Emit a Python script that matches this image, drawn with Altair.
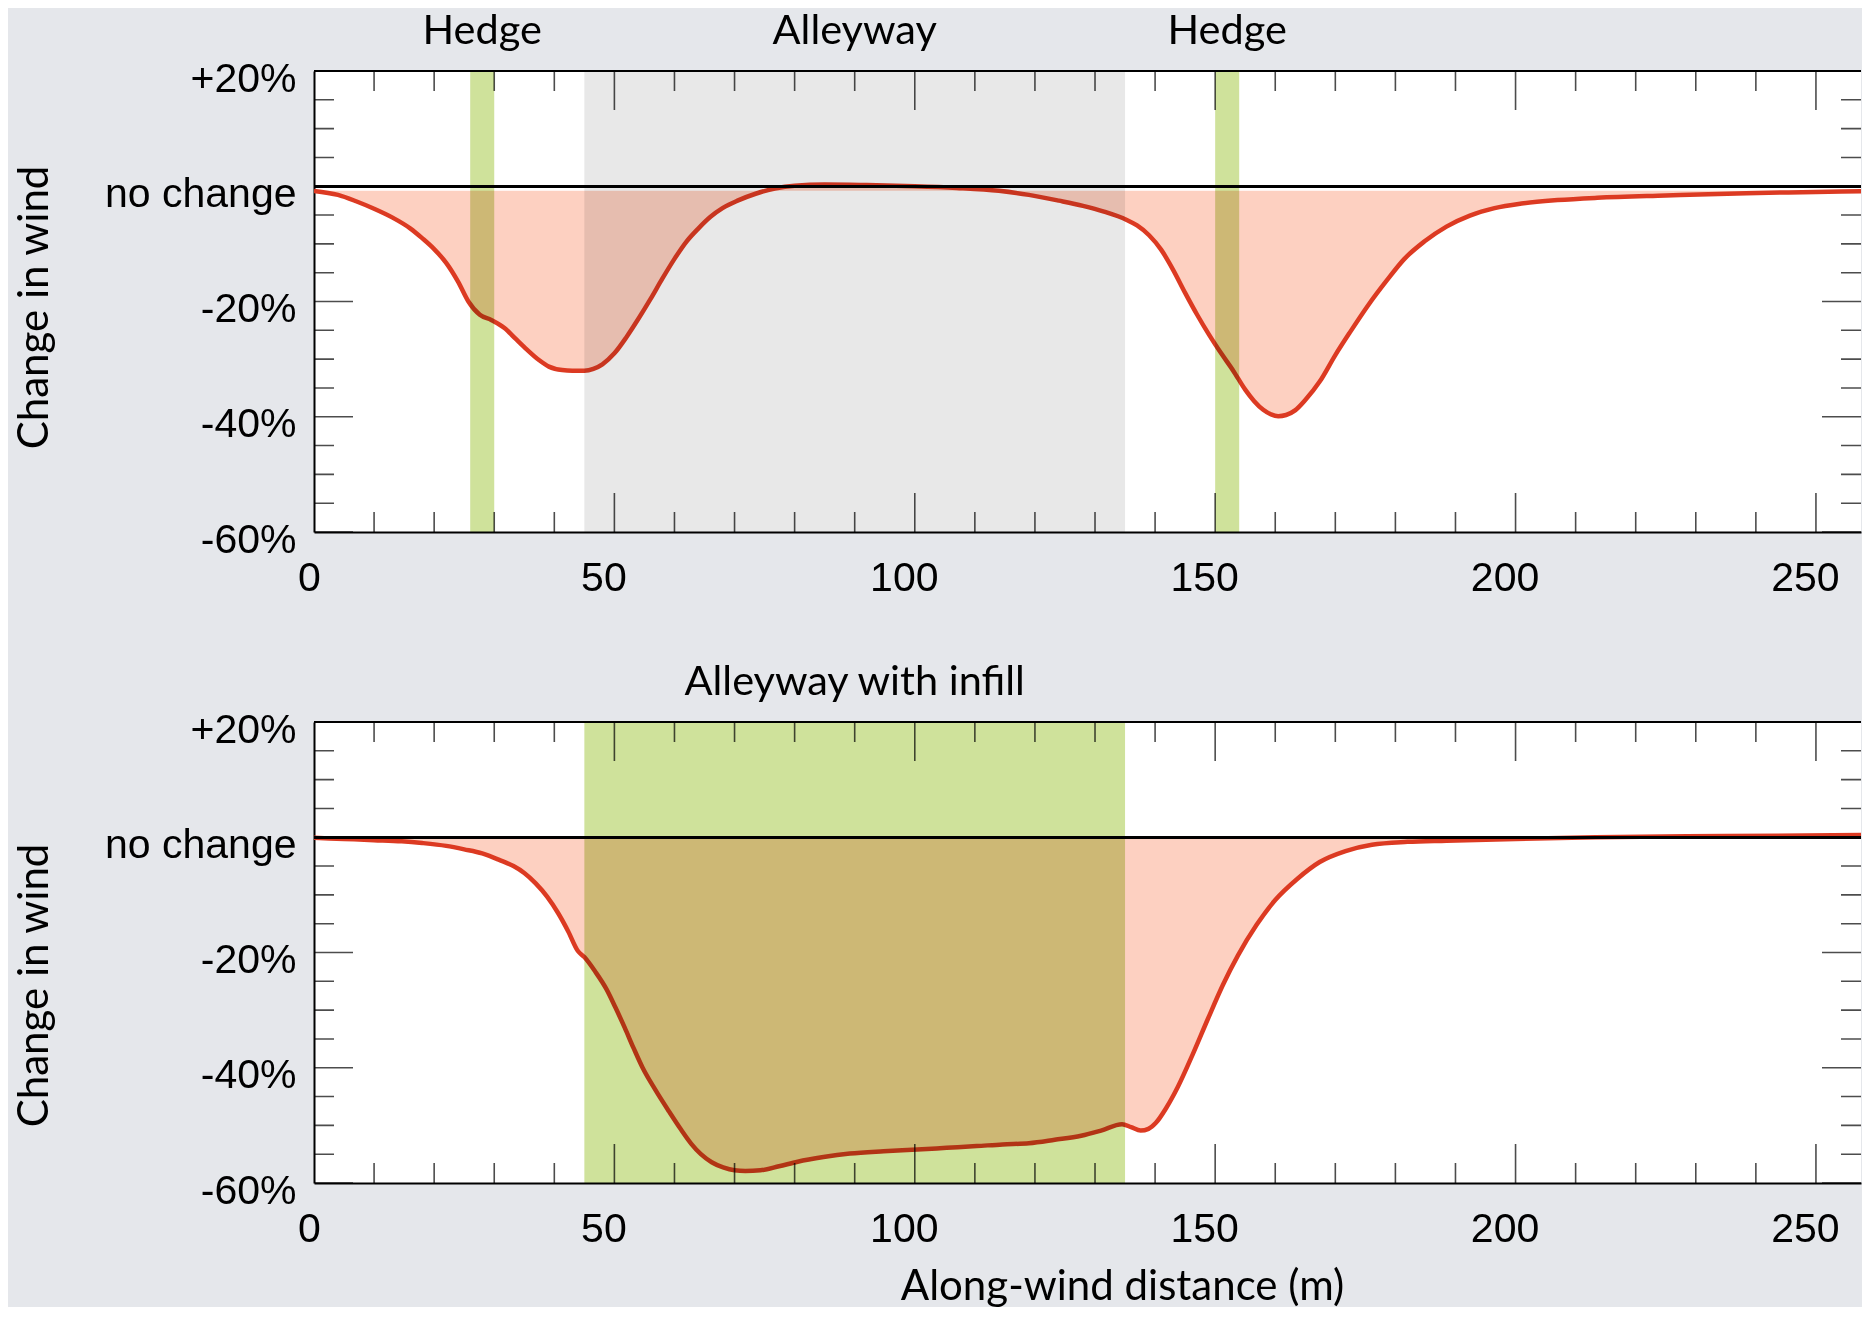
import altair as alt
import pandas as pd

# ---------------- data ----------------
top_x = [0, 4, 7, 10, 13, 16, 18, 20, 22, 24, 25.7, 27.6, 29.5, 31.7, 33.5, 35.4, 37.5, 39.1,
         41.3, 43, 45, 46.5, 48, 50, 52, 54, 56, 58, 60, 62, 64, 66, 68, 70.5, 73.5, 76.7,
         80, 85, 92, 100, 107, 114, 119, 124, 128, 131.5, 135.2, 137, 139, 141, 143, 145, 147, 149,
         151, 153, 155, 156.5, 158, 159.3, 160.5, 161.8, 163.3, 165, 167.4, 170, 172.4, 175.5,
         178.6, 181.5, 184.8, 188.5, 192.4, 196.5, 201, 207, 213.6, 225, 238.4, 250, 260]
top_v = [-0.8, -1.5, -2.6, -3.9, -5.4, -7.3, -9.0, -10.9, -13.3, -16.6, -20.0, -22.3, -23.2, -24.6,
         -26.4, -28.3, -30.2, -31.3, -31.9, -32.0, -32.0, -31.7, -30.9, -29.0, -26.2, -23.0, -19.6,
         -16.0, -12.6, -9.6, -7.3, -5.3, -3.8, -2.5, -1.3, -0.4, 0.1, 0.3, 0.2, 0.0, -0.3, -0.8, -1.5,
         -2.5, -3.4, -4.4, -5.8, -6.8, -8.5, -11.0, -14.5, -18.5, -22.3, -25.8, -29.0, -32.0,
         -35.3, -37.3, -38.8, -39.6, -39.9, -39.7, -38.9, -37.1, -33.9, -29.3, -25.4, -20.6,
         -16.3, -12.6, -9.6, -7.0, -5.1, -3.8, -3.0, -2.4, -2.0, -1.6, -1.2, -1.0, -0.8]

bot_x = [0, 5, 10, 14.6, 18, 22, 25, 28, 31, 33.2, 35, 36.9, 38.8, 40.6, 42.3, 43.9, 45, 46.8,
         48.7, 50.2, 51.7, 53.2, 54.7, 56.8, 59.1, 61, 62.8, 64.4, 66.2, 68.1, 70, 71.8, 74.3,
         77.4, 80.5, 84.8, 89.2, 94.8, 100.4, 105.3, 110.3, 114.6, 119, 123.3, 127.7, 131, 134.5,
         136, 137.6, 138.9, 140.1, 141.9, 143.8, 146.3, 148.8, 151.3, 153.8, 156.9, 160, 163.7,
         167.4, 171.7, 176.1, 182, 188.5, 200, 213.3, 235, 260]
bot_v = [-0.1, -0.3, -0.5, -0.7, -1.0, -1.5, -2.1, -2.8, -4.0, -5.0, -6.2, -8.0, -10.3, -13.1,
         -16.3, -19.7, -20.8, -23.3, -26.4, -29.6, -33.0, -36.6, -40.0, -43.8, -47.6, -50.6,
         -53.2, -55.0, -56.4, -57.3, -57.8, -57.9, -57.8, -57.1, -56.3, -55.5, -54.9, -54.5,
         -54.2, -53.9, -53.6, -53.3, -53.1, -52.5, -51.8, -50.9, -49.8, -50.3, -50.9, -50.6,
         -49.6, -46.9, -43.3, -37.6, -31.5, -25.6, -20.5, -15.2, -10.9, -7.2, -4.3, -2.4, -1.3,
         -0.8, -0.6, -0.3, 0.0, 0.2, 0.4]

# shaded baseline of the pink fill
top_fill_base = -0.8
bot_fill_base = 0.0

top_region_start = [26, 45, 150]
top_region_end = [30, 135, 154]
top_region_kind = ["hedge", "alley", "hedge"]
top_region_label = ["Hedge", "Alleyway", "Hedge"]

bot_region_start = [45]
bot_region_end = [135]
bot_region_kind = ["infill"]
bot_region_label = ["Alleyway with infill"]

x_tick_values = list(range(0, 251, 10))
x_label_values = [0, 50, 100, 150, 200, 250]
y_tick_values = list(range(-60, 21, 5))
y_label_values = [-60, -40, -20, 0, 20]

X_DOMAIN = [0, 257.5]
Y_DOMAIN = [-60, 20]

# ---------------- style ----------------
W = 1547
H = 461
LABEL_FONT = "Liberation Sans"
TITLE_FONT = "Lato"
RED = "#dc3a22"
PINK = "#fdd0c1"
REGION_COLORS = {"hedge": "#cfe29b", "alley": "#e8e8e8", "infill": "#cfe29b"}


def panel(xs, vs, base, starts, ends, kinds, labels, y_title_y, x_title):
    curve = pd.DataFrame({"x": xs, "v": vs})
    curve["base"] = base
    regions = pd.DataFrame({"start": starts, "end": ends, "kind": kinds, "label": labels})
    xt = pd.DataFrame({"pos": x_tick_values})
    xt["kind"] = ["major" if v in x_label_values else "minor" for v in x_tick_values]
    xticks = pd.concat([xt.assign(edge=Y_DOMAIN[0]), xt.assign(edge=Y_DOMAIN[1])])
    yt = pd.DataFrame({"pos": y_tick_values})
    yt["kind"] = ["major" if v in y_label_values else "minor" for v in y_tick_values]
    yticks = pd.concat([yt.assign(edge=X_DOMAIN[0]), yt.assign(edge=X_DOMAIN[1])])

    xscale = alt.Scale(domain=X_DOMAIN, nice=False, zero=False)
    yscale = alt.Scale(domain=Y_DOMAIN, nice=False, zero=False)

    xaxis_kw = dict(values=x_label_values, ticks=False, tickSize=0, grid=False,
                    labelFont=LABEL_FONT, labelFontSize=41, labelColor="black",
                    labelPadding=26, labelOffset={"expr": "datum.value == 0 ? -5 : -11"},
                    labelFlush=False, labelOverlap=False,
                    labelLimit=0, domainColor="black", domainWidth=2, format="d")
    if x_title:
        xaxis = alt.Axis(title=x_title, titleFont=TITLE_FONT, titleFontSize=42,
                         titleFontWeight="normal", titleColor="black", titleX=808, titleY=116,
                         titleBaseline="alphabetic", titleAlign="center", **xaxis_kw)
    else:
        xaxis = alt.Axis(title=None, **xaxis_kw)

    yaxis = alt.Axis(values=y_label_values, ticks=False, tickSize=0, grid=False,
                     labelExpr="datum.value == 20 ? '+20%' : datum.value == 0 ? 'no change' : datum.value + '%'",
                     labelFont=LABEL_FONT, labelFontSize=41, labelColor="black",
                     labelPadding=18, labelOffset=8, labelFlush=False, labelOverlap=False,
                     labelLimit=0, domainColor="black", domainWidth=2,
                     title="Change in wind", titleFont=TITLE_FONT, titleFontSize=42,
                     titleFontWeight="normal", titleColor="black", titleAngle=270,
                     titleX=-280, titleY=y_title_y, titleBaseline="middle", titleAlign="center")

    def X(f):
        return alt.X(f, scale=xscale, axis=xaxis)

    def Y(f):
        return alt.Y(f, scale=yscale, axis=yaxis)

    area = alt.Chart(curve).mark_area(color=PINK, interpolate="monotone", clip=True).encode(
        x=X("x:Q"), y=Y("v:Q"), y2="base:Q",
    )
    line = alt.Chart(curve).mark_line(color=RED, strokeWidth=4.5, interpolate="monotone",
                                      clip=True).encode(x=X("x:Q"), y=Y("v:Q"))
    rects = alt.Chart(regions).mark_rect(blend="multiply").encode(
        x=X("start:Q"),
        x2="end:Q",
        color=alt.Color("kind:N", legend=None,
                        scale=alt.Scale(domain=list(REGION_COLORS.keys()),
                                        range=list(REGION_COLORS.values()))),
    )
    zero = alt.Chart(curve).mark_rule(color="black", strokeWidth=2).encode(
        y=alt.YDatum(0, axis=yaxis, scale=yscale)
    )
    topline = alt.Chart(curve).mark_rule(color="black", strokeWidth=2).encode(
        y=alt.YDatum(Y_DOMAIN[1], axis=yaxis, scale=yscale)
    )

    tick_layers = []
    for kind, size in (("major", 78), ("minor", 40)):
        tick_layers.append(
            alt.Chart(xticks).transform_filter(alt.datum.kind == kind)
            .mark_tick(orient="vertical", clip=True, color="black", thickness=1.6, size=size)
            .encode(x=X("pos:Q"), y=Y("edge:Q"))
        )
        tick_layers.append(
            alt.Chart(yticks).transform_filter(alt.datum.kind == kind)
            .mark_tick(orient="horizontal", clip=True, color="black", thickness=1.6, size=size)
            .encode(x=X("edge:Q"), y=Y("pos:Q"))
        )

    text = alt.Chart(regions).transform_calculate(
        center="(datum.start + datum.end) / 2"
    ).mark_text(font=TITLE_FONT, fontSize=41.5, baseline="alphabetic", align="center",
                dy=-27, color="black").encode(
        x=X("center:Q"), y=alt.value(0), text="label:N"
    )

    return alt.layer(area, line, rects, zero, topline, *tick_layers, text).properties(
        width=W, height=H
    )


top = panel(top_x, top_v, top_fill_base, top_region_start, top_region_end, top_region_kind,
            top_region_label, 236, None)
bottom = panel(bot_x, bot_v, bot_fill_base, bot_region_start, bot_region_end, bot_region_kind,
               bot_region_label, 263, "Along-wind distance (m)")

chart = alt.vconcat(top, bottom, spacing=190, bounds="flush").properties(
    padding={"left": 5, "top": 3, "right": 0, "bottom": 0},
    background="#e5e7eb",
).configure_view(stroke=None, fill="white")

chart.save("out.html", embed_options={"renderer": "svg", "actions": False})
